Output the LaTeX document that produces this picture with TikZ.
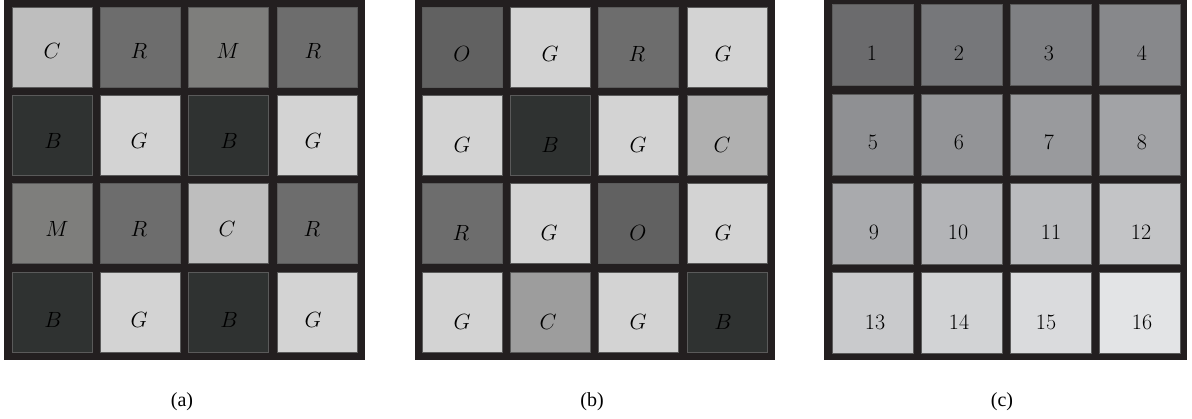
\RequirePackage{fix-cm}
\documentclass[tikz,border=0pt]{standalone}
\usepackage{fontspec}
\newfontfamily\capfont{Liberation Serif}
\definecolor{frame}{HTML}{231F20}
\definecolor{cline}{HTML}{5A5A5A}
\definecolor{aC}{HTML}{BEBEBE}
\definecolor{aR}{HTML}{6D6D6D}
\definecolor{aM}{HTML}{7E7E7C}
\definecolor{aB}{HTML}{2F3231}
\definecolor{aG}{HTML}{D3D3D3}
\definecolor{bO}{HTML}{616161}
\definecolor{bCa}{HTML}{B0B0B0}
\definecolor{bCb}{HTML}{9D9D9D}
\definecolor{c1}{HTML}{6B6B6D}
\definecolor{c2}{HTML}{76777A}
\definecolor{c3}{HTML}{7F8083}
\definecolor{c4}{HTML}{87888B}
\definecolor{c5}{HTML}{8F9093}
\definecolor{c6}{HTML}{939497}
\definecolor{c7}{HTML}{999A9D}
\definecolor{c8}{HTML}{A2A3A6}
\definecolor{c9}{HTML}{A9AAAD}
\definecolor{c10}{HTML}{B3B4B7}
\definecolor{c11}{HTML}{BABBBE}
\definecolor{c12}{HTML}{C3C4C6}
\definecolor{c13}{HTML}{C9CACC}
\definecolor{c14}{HTML}{D2D3D5}
\definecolor{c15}{HTML}{DADBDD}
\definecolor{c16}{HTML}{E3E4E6}
\newcommand\gcell[8]{%
  \node[cell, fill=#5, minimum size=#4pt] (#1) at (#2,#3) {};
  \node[lab] (#1t) at (#6,#7) {#8};}
\begin{document}
\begin{tikzpicture}[x=1pt,y=-1pt,
  cell/.style={draw=cline, line width=0.75pt, inner sep=0pt, outer sep=0pt},
  lab/.style={font=\fontsize{22}{26}\selectfont, inner sep=0pt, text=black},
  captext/.style={font=\capfont\fontsize{20}{24}\selectfont, inner sep=0pt},
  framebox/.style={fill=frame}]
\useasboundingbox (0,0) rectangle (1192,419);
% ---------- (a) ----------
\fill[framebox] (4,0) rectangle (365,360);
\gcell{a11}{52}{47}{80}{aC}{52}{51}{$C$}
\gcell{a12}{140.3}{47}{80}{aR}{139}{51}{$R$}
\gcell{a13}{228.6}{47}{80}{aM}{228}{51}{$M$}
\gcell{a14}{316.9}{47}{80}{aR}{313}{51}{$R$}
\gcell{a21}{52}{135.3}{80}{aB}{53}{141}{$B$}
\gcell{a22}{140.3}{135.3}{80}{aG}{139}{141}{$G$}
\gcell{a23}{228.6}{135.3}{80}{aB}{229}{141}{$B$}
\gcell{a24}{316.9}{135.3}{80}{aG}{313}{141}{$G$}
\gcell{a31}{52}{223.6}{80}{aM}{57}{229}{$M$}
\gcell{a32}{140.3}{223.6}{80}{aR}{139}{229}{$R$}
\gcell{a33}{228.6}{223.6}{80}{aC}{227}{229}{$C$}
\gcell{a34}{316.9}{223.6}{80}{aR}{312}{229}{$R$}
\gcell{a41}{52}{311.9}{80}{aB}{53}{320}{$B$}
\gcell{a42}{140.3}{311.9}{80}{aG}{139}{320}{$G$}
\gcell{a43}{228.6}{311.9}{80}{aB}{229}{320}{$B$}
\gcell{a44}{316.9}{311.9}{80}{aG}{313}{320}{$G$}
\node[captext] (capa) at (182,402) {(a)};
% ---------- (b) ----------
\fill[framebox] (415,0) rectangle (775,360);
\gcell{b11}{462}{47}{80}{bO}{462}{54}{$O$}
\gcell{b12}{550.3}{47}{80}{aG}{550}{54}{$G$}
\gcell{b13}{638.6}{47}{80}{aR}{637}{54}{$R$}
\gcell{b14}{726.9}{47}{80}{aG}{723}{54}{$G$}
\gcell{b21}{462}{135.3}{80}{aG}{462}{145}{$G$}
\gcell{b22}{550.3}{135.3}{80}{aB}{550}{145}{$B$}
\gcell{b23}{638.6}{135.3}{80}{aG}{638}{145}{$G$}
\gcell{b24}{726.9}{135.3}{80}{bCa}{722}{145}{$C$}
\gcell{b31}{462}{223.6}{80}{aR}{461}{233}{$R$}
\gcell{b32}{550.3}{223.6}{80}{aG}{549}{233}{$G$}
\gcell{b33}{638.6}{223.6}{80}{bO}{638}{233}{$O$}
\gcell{b34}{726.9}{223.6}{80}{aG}{723}{233}{$G$}
\gcell{b41}{462}{311.9}{80}{aG}{462}{322}{$G$}
\gcell{b42}{550.3}{311.9}{80}{bCb}{548}{322}{$C$}
\gcell{b43}{638.6}{311.9}{80}{aG}{638}{322}{$G$}
\gcell{b44}{726.9}{311.9}{80}{aB}{723}{322}{$B$}
\node[captext] (capb) at (592,402) {(b)};
% ---------- (c) ----------
\fill[framebox] (824,0) rectangle (1187,360);
\gcell{c11}{872.5}{45}{81}{c1}{872}{53}{1}
\gcell{c12}{961.5}{45}{81}{c2}{959}{53}{2}
\gcell{c13}{1050.5}{45}{81}{c3}{1049}{53}{3}
\gcell{c14}{1139.5}{45}{81}{c4}{1142}{53}{4}
\gcell{c21}{872.5}{134.5}{81}{c5}{873}{142}{5}
\gcell{c22}{961.5}{134.5}{81}{c6}{959}{142}{6}
\gcell{c23}{1050.5}{134.5}{81}{c7}{1049}{142}{7}
\gcell{c24}{1139.5}{134.5}{81}{c8}{1142}{142}{8}
\gcell{c31}{872.5}{223.5}{81}{c9}{874}{232}{9}
\gcell{c32}{961.5}{223.5}{81}{c10}{958}{232}{10}
\gcell{c33}{1050.5}{223.5}{81}{c11}{1051}{232}{11}
\gcell{c34}{1139.5}{223.5}{81}{c12}{1141}{232}{12}
\gcell{c41}{872.5}{312.5}{81}{c13}{875}{322}{13}
\gcell{c42}{961.5}{312.5}{81}{c14}{959}{322}{14}
\gcell{c43}{1050.5}{312.5}{81}{c15}{1046}{322}{15}
\gcell{c44}{1139.5}{312.5}{81}{c16}{1142}{322}{16}
\node[captext] (capc) at (1002,402) {(c)};
\end{tikzpicture}
\end{document}
